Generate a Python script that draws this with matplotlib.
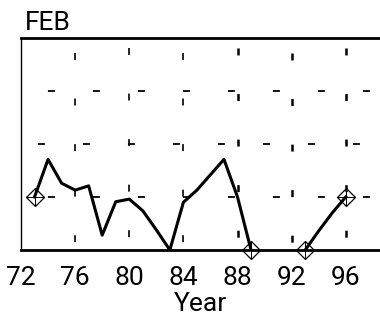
import numpy as np
import matplotlib
matplotlib.use("Agg")
import matplotlib.pyplot as plt

plt.rcParams['lines.scale_dashes'] = False
plt.rcParams['font.family'] = ['Roboto', 'DejaVu Sans']

# February series, year (19xx) -> value; gap 90-92 has no data
years = [73, 74, 75, 76, 77, 78, 79, 80, 81, 82, 83, 84, 85, 86, 87, 88, 89,
         90, 91, 92, 93, 94, 95, 96]
values = [1.0, 1.71, 1.26, 1.13, 1.21, 0.28, 0.91, 0.96, 0.74, 0.38, 0.0,
          0.9, 1.13, 1.42, 1.71, 1.0, 0.0,
          np.nan, np.nan, np.nan, 0.0, 0.36, 0.7, 1.0]
# years marked with a diamond
marked = [73, 89, 93, 96]
xticks = [72, 76, 80, 84, 88, 92, 96]
ygrid = [1, 2, 3]

fig = plt.figure(figsize=(3.8, 3.2), dpi=100)
ax = fig.add_axes([21 / 380, 1 - 250 / 320, 1 - 21 / 380, 212 / 320])
ax.set_xlim(72, 98.53)
ax.set_ylim(0, 4)

# sparse dashed grid, drawn by hand so each line gets its own dash phase
for y, off in zip(ygrid, [13, 20.2, 13]):
    ax.plot([72, 98.53], [y, y], color='black', lw=1.3,
            linestyle=(off, (5, 27.4)), zorder=1)
for i, x in enumerate(xticks):
    off = 25.6 if i % 2 == 0 else 22
    lw = 1.2 if x < 88 else 1.8
    ax.plot([x, x], [4, 0], color='black', lw=lw,
            linestyle=(off, (5, 27.8)), zorder=1)

ax.plot(years, values, color='black', lw=2.2, zorder=3)
mv = [values[years.index(y)] for y in marked]
ax.plot(marked, mv, 'D', ms=9, mfc='none', mec='black', mew=0.9,
        zorder=4, clip_on=False)
ax.plot(marked, mv, '+', ms=13, mec='black', mew=0.7, zorder=4,
        clip_on=False)

ax.spines['right'].set_visible(False)
ax.spines['top'].set_linewidth(2)
ax.spines['bottom'].set_linewidth(2)
ax.spines['left'].set_linewidth(1)

ax.set_xticks(xticks)
ax.set_yticks([])
ax.tick_params(axis='x', length=0, pad=11.5, labelsize=19)
ax.set_xlabel('Year', fontsize=19, labelpad=1.5)
ax.set_title('FEB', loc='left', fontsize=19, pad=6, x=0.01)

fig.savefig('out.png', dpi=100)
